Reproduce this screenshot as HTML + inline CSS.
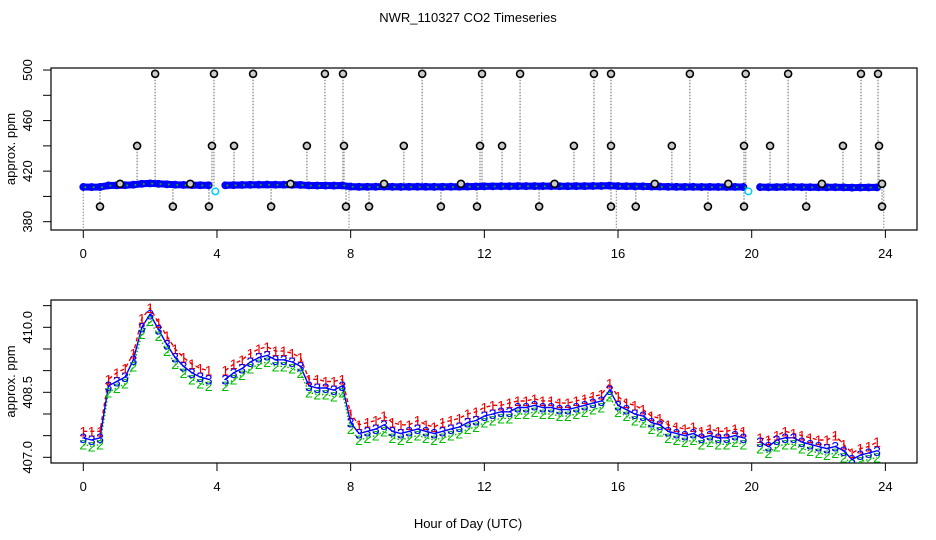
<!DOCTYPE html>
<html><head><meta charset="utf-8"><style>
body{margin:0;background:#fff;}
svg{display:block;font-family:"Liberation Sans",sans-serif;}
</style></head><body>
<svg id="chart" width="936" height="540" viewBox="0 0 936 540">
<defs>
<clipPath id="clipTop"><rect x="51" y="68" width="866" height="162"/></clipPath>
<clipPath id="clipBot"><rect x="51" y="300" width="866" height="163"/></clipPath>
</defs>
<text x="468" y="22" font-size="13" text-anchor="middle">NWR_110327  CO2 Timeseries</text>
<text x="468" y="528" font-size="13" text-anchor="middle">Hour of Day (UTC)</text>
<g id="top"></g>
<g id="bot"></g>
</svg>
<script>
const hours=[0,0.25,0.5,0.75,1,1.25,1.5,1.75,2,2.25,2.5,2.75,3,3.25,3.5,3.75,4,4.25,4.5,4.75,5,5.25,5.5,5.75,6,6.25,6.5,6.75,7,7.25,7.5,7.75,8,8.25,8.5,8.75,9,9.25,9.5,9.75,10,10.25,10.5,10.75,11,11.25,11.5,11.75,12,12.25,12.5,12.75,13,13.25,13.5,13.75,14,14.25,14.5,14.75,15,15.25,15.5,15.75,16,16.25,16.5,16.75,17,17.25,17.5,17.75,18,18.25,18.5,18.75,19,19.25,19.5,19.75,20,20.25,20.5,20.75,21,21.25,21.5,21.75,22,22.25,22.5,22.75,23,23.25,23.5,23.75];
const series3=[407.45,407.4,407.45,408.65,408.75,408.85,409.25,410.0,410.3,409.95,409.6,409.3,409.1,408.95,408.85,408.8,null,408.8,408.95,409.05,409.2,409.3,409.35,409.25,409.25,409.2,409.1,408.65,408.6,408.6,408.55,408.65,407.8,407.55,407.6,407.65,407.75,407.6,407.55,407.6,407.65,407.6,407.55,407.6,407.65,407.7,407.8,407.85,407.95,408.0,408.05,408.05,408.15,408.15,408.2,408.15,408.15,408.1,408.1,408.15,408.2,408.25,408.3,408.55,408.2,408.1,408.0,407.95,407.8,407.75,407.6,407.55,407.5,407.55,407.45,407.5,407.45,407.45,407.5,407.45,null,407.35,407.25,407.4,407.45,407.45,407.35,407.3,407.25,407.2,407.25,407.15,406.95,407.05,407.1,407.15];
const series1=[407.6,407.6,407.6,408.8,408.95,409.05,409.4,410.2,410.45,410.1,409.8,409.5,409.3,409.15,409.05,409.0,null,409.0,409.15,409.25,409.4,409.5,409.55,409.45,409.45,409.4,409.3,408.8,408.8,408.75,408.75,408.8,408.0,407.75,407.8,407.85,407.95,407.8,407.75,407.75,407.85,407.75,407.7,407.8,407.85,407.9,408.0,408.05,408.15,408.2,408.2,408.25,408.3,408.3,408.35,408.3,408.3,408.25,408.25,408.3,408.35,408.4,408.45,408.7,408.4,408.25,408.2,408.1,407.95,407.9,407.75,407.7,407.65,407.7,407.6,407.65,407.6,407.6,407.65,407.6,null,407.45,407.4,407.5,407.6,407.55,407.5,407.45,407.4,407.4,407.5,407.3,407.1,407.2,407.25,407.35];
const series2=[407.3,407.25,407.3,408.5,408.6,408.7,409.1,409.85,410.15,409.8,409.45,409.15,408.95,408.8,408.7,408.65,null,408.65,408.8,408.9,409.05,409.15,409.2,409.1,409.1,409.05,408.95,408.5,408.45,408.45,408.4,408.5,407.65,407.4,407.45,407.5,407.6,407.45,407.4,407.45,407.5,407.45,407.4,407.45,407.5,407.55,407.65,407.7,407.8,407.85,407.9,407.9,408.0,408.0,408.05,408.0,408.0,407.95,407.95,408.0,408.05,408.1,408.15,408.4,408.05,407.95,407.85,407.8,407.65,407.6,407.45,407.4,407.35,407.4,407.3,407.35,407.3,407.3,407.35,407.3,null,407.2,407.1,407.25,407.3,407.3,407.2,407.15,407.1,407.05,407.1,407.0,406.85,406.9,406.95,407.0];
const outlierHours=[2.15,3.91,5.08,7.23,7.77,10.14,11.93,13.07,15.28,15.79,18.15,19.82,21.09,23.27,23.78,1.61,3.85,4.51,6.69,7.8,9.59,11.87,12.53,14.68,15.79,17.61,19.77,20.55,22.73,23.81,0.5,2.68,3.76,5.62,7.86,8.55,10.7,11.78,13.64,15.79,16.53,18.69,19.77,21.63,23.9,1.1,3.2,6.2,9.0,11.3,14.1,17.1,19.3,22.1,23.9];
const outlierValues=[497,497,497,497,497,497,497,497,497,497,497,497,497,497,497,440,440,440,440,440,440,440,440,440,440,440,440,440,440,440,392,392,392,392,392,392,392,392,392,392,392,392,392,392,392,410,410,410,410,410,410,410,410,410,410];
const dropHours=[0,7.95,15.95,23.95];
const dropValues=[370,370,370,370];
const cyanHours=[3.95,19.9];
const cyanValues=[404,404];
const xTicks=[0,4,8,12,16,20,24];
const topTicks=[380,400,420,440,460,480,500];
const topLabels=[380,420,460,500];
const botTicks=[407,407.5,408,408.5,409,409.5,410,410.5];
const botLabels=[407.0,408.5,410.0];

const NS="http://www.w3.org/2000/svg";
const X=h=>83.3+h*33.42;
const YT=v=>221.7-(v-380)*1.264;
const YB=v=>457.3-(v-407)*43.33;
function mk(parent,tag,attrs,txt){const e=document.createElementNS(NS,tag);for(const k in attrs)e.setAttribute(k,attrs[k]);if(txt!==undefined)e.textContent=txt;parent.appendChild(e);return e;}

function axes(g,top,bottom,Y,ticks,labels,fmt,labelName){
  const box=mk(g,'rect',{x:51,y:top,width:866,height:bottom-top,fill:'none',stroke:'#000','stroke-width':1.2});
  
  
  xTicks.forEach(t=>{
    const l=mk(g,'line',{x1:X(t),x2:X(t),y1:bottom,y2:bottom+8,stroke:'#000'});
    
    
    const tx=mk(g,'text',{x:X(t),y:bottom+28,'font-size':13,'text-anchor':'middle'},String(t));
    
    
  });
  ticks.forEach(t=>{
    const l=mk(g,'line',{x1:43,x2:51,y1:Y(t),y2:Y(t),stroke:'#000'});
    
    
  });
  labels.forEach(t=>{
    const tx=mk(g,'text',{x:0,y:0,'font-size':13,'text-anchor':'middle',transform:`translate(32,${Y(t)}) rotate(-90)`},fmt(t));
    
    
  });
  const yt=mk(g,'text',{x:0,y:0,'font-size':13,'text-anchor':'middle',transform:`translate(15,${(top+bottom)/2}) rotate(-90)`},'approx. ppm');
  
  
}

function segs(xs,ys,Y){const out=[];let cur=[];xs.forEach((h,i)=>{if(ys[i]===null){if(cur.length)out.push(cur);cur=[];}else cur.push(X(h).toFixed(1)+','+Y(ys[i]).toFixed(1));});if(cur.length)out.push(cur);return out;}

// top panel
const gt=document.getElementById('top');
axes(gt,68,230,YT,topTicks,topLabels,v=>String(v),'top-y-axis-title');
const ct=mk(gt,'g',{'clip-path':'url(#clipTop)'});


outlierHours.forEach((h,i)=>{
  const l=mk(ct,'line',{x1:X(h),x2:X(h),y1:YT(408),y2:YT(outlierValues[i]),stroke:'#999','stroke-dasharray':'1.5,1.5','stroke-width':1.5});
  
  
});
dropHours.forEach((h,i)=>{
  const l=mk(ct,'line',{x1:X(h),x2:X(h),y1:YT(407),y2:YT(dropValues[i]),stroke:'#999','stroke-dasharray':'1.5,1.5','stroke-width':1.2});
  
  
});
[[series1,'#e00'],[series2,'#0b0'],[series3,'#00f']].forEach(([s,c],k)=>{
  segs(hours,s,YT).forEach(p=>{
    const pl=mk(ct,'polyline',{points:p.join(' '),fill:'none',stroke:c,'stroke-width':k===2?7:5,'stroke-linecap':'round'});
    
    
  });
});
hours.forEach((h,i)=>{if(series3[i]===null)return;
  const c=mk(ct,'circle',{cx:X(h),cy:YT(series3[i]),r:3.3,fill:'none',stroke:'#00f','stroke-width':1.3});
  
  
  const d=mk(ct,'circle',{cx:X(h)+2,cy:YT(series2[i]),r:1,fill:'#0b0'});
  
  
});
outlierHours.forEach((h,i)=>{
  const c=mk(ct,'circle',{cx:X(h),cy:YT(outlierValues[i]),r:3.5,fill:'#ccc',stroke:'#000','stroke-width':1.6});
  
  
});
cyanHours.forEach((h,i)=>{
  const c=mk(ct,'circle',{cx:X(h),cy:YT(cyanValues[i]),r:3.3,fill:'none',stroke:'#0cf','stroke-width':1.5});
  
  
});

// bottom panel
const gb=document.getElementById('bot');
axes(gb,300,463,YB,botTicks,botLabels,v=>v.toFixed(1),'bottom-y-axis-title');
const cb=mk(gb,'g',{'clip-path':'url(#clipBot)'});


const defs=[[series1,'#e00','4,3','1','series-1'],[series2,'#0b0','1.5,2','2','series-2'],[series3,'#00f','none','3','series-3']];
defs.forEach(([s,c,dash,lab,nm])=>{
  segs(hours,s,YB).forEach(p=>{
    const pl=mk(cb,'polyline',{points:p.join(' '),fill:'none',stroke:c,'stroke-width':1.4,'stroke-dasharray':dash});
    
    
  });
});
defs.forEach(([s,c,dash,lab,nm])=>{
  hours.forEach((h,i)=>{if(s[i]===null)return;
    const t=mk(cb,'text',{x:X(h),y:YB(s[i])+5,'font-size':14,'text-anchor':'middle',fill:c},lab);
    
    
  });
});
</script>
</body></html>
